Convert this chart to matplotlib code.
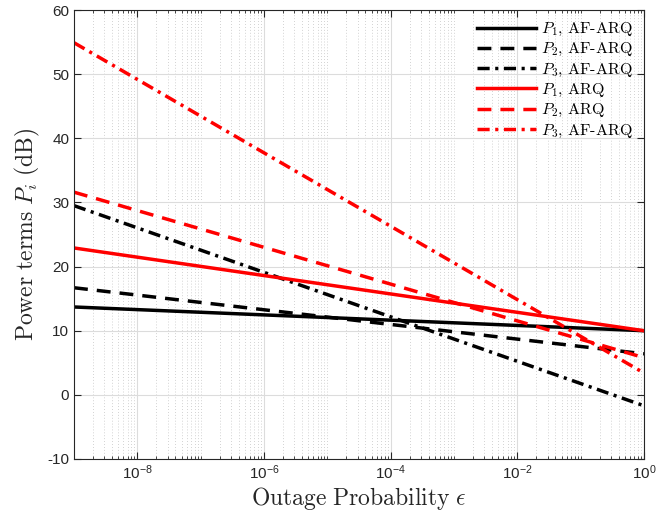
import matplotlib
matplotlib.use('Agg')
import matplotlib.pyplot as plt
from matplotlib.ticker import LogLocator, NullFormatter, MultipleLocator

plt.rcParams['mathtext.fontset'] = 'cm'
plt.rcParams['font.family'] = ['Liberation Sans', 'DejaVu Sans']
plt.rcParams['font.serif'] = ['cmr10']
plt.rcParams['axes.unicode_minus'] = False

eps = [1e-9, 1e0]

p1_af = [13.7, 10.0]
p2_af = [16.7, 6.4]
p3_af = [29.5, -1.7]
p1_arq = [22.9, 10.0]
p2_arq = [31.6, 5.8]
p3_arq = [54.9, 3.4]

labels = [r'$P_1$, AF-ARQ', r'$P_2$, AF-ARQ', r'$P_3$, AF-ARQ',
          r'$P_1$, ARQ', r'$P_2$, ARQ', r'$P_3$, AF-ARQ']

dash = (0, (4, 2.6))
dashdot = (0, (3.5, 1.6, 0.9, 1.6))

fig = plt.figure(figsize=(6.59, 5.29), dpi=100)
ax = fig.add_axes([74/659, 1 - 459/529, 570/659, 449/529])

lw = 2.5
ax.semilogx(eps, p1_af, color='black', lw=lw, ls='-', label=labels[0])
ax.semilogx(eps, p2_af, color='black', lw=lw, ls=dash, label=labels[1])
ax.semilogx(eps, p3_af, color='black', lw=lw, ls=dashdot, label=labels[2])
ax.semilogx(eps, p1_arq, color='red', lw=lw, ls='-', label=labels[3])
ax.semilogx(eps, p2_arq, color='red', lw=lw, ls=dash, label=labels[4])
ax.semilogx(eps, p3_arq, color='red', lw=lw, ls=dashdot, label=labels[5])

ax.set_xlim(1e-9, 1e0)
ax.set_ylim(-10, 60)
ax.set_xticks([1e-8, 1e-6, 1e-4, 1e-2, 1e0])
ax.xaxis.set_minor_locator(LogLocator(base=10, subs=range(1, 10), numticks=30))
ax.xaxis.set_minor_formatter(NullFormatter())
ax.yaxis.set_major_locator(MultipleLocator(10))

ax.grid(True, which='major', color='#dcdcdc', lw=0.8, ls='-')
ax.grid(True, which='minor', axis='x', color='#c4c4c4', lw=0.6, ls=(0, (1, 2.5)))
ax.set_axisbelow(True)

ax.tick_params(which='both', direction='in', top=True, right=True, labelsize=11, colors='#262626')
ax.tick_params(which='major', length=5)
ax.tick_params(which='minor', length=2.5)
for s in ax.spines.values():
    s.set_color('#262626')
    s.set_linewidth(0.8)

ax.set_xlabel(r'$\mathrm{Outage\ Probability}\ \epsilon$', fontsize=17, color='#262626', labelpad=2)
ax.set_ylabel(r'$\mathrm{Power\ terms}\ P_i\ \mathrm{(dB)}$', fontsize=17, color='#262626', labelpad=4)

ax.legend(loc='upper right', frameon=False, handlelength=3.7,
          handletextpad=0.3, labelspacing=0.2, borderaxespad=0.3,
          prop={'family': 'serif', 'size': 11.5})

fig.savefig('out.png', dpi=100)
